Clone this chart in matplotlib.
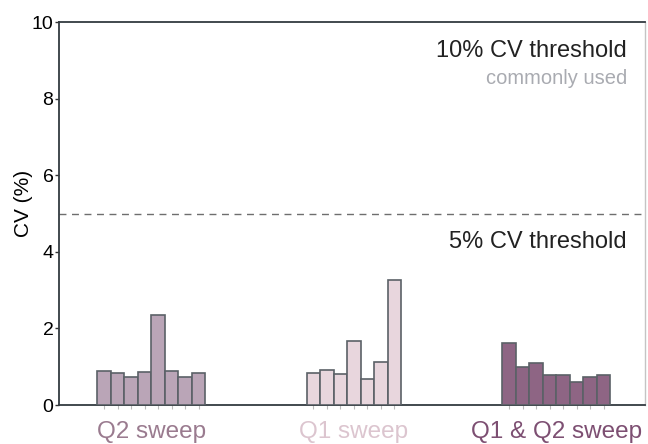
import numpy as np
import matplotlib.pyplot as plt

plt.rcParams['font.family'] = ['Liberation Sans', 'DejaVu Sans']

groups = ['Q2 sweep', 'Q1 sweep', 'Q1 & Q2 sweep']
q2_sweep = [0.89, 0.83, 0.74, 0.85, 2.36, 0.89, 0.72, 0.83]
q1_sweep = [0.83, 0.92, 0.82, 1.68, 0.69, 1.13, 3.26]
q1q2_sweep = [1.61, 0.98, 1.10, 0.79, 0.79, 0.60, 0.73, 0.79]
threshold = 5

fills = ['#baa5b7', '#e8d6dd', '#8e6584']
label_colors = ['#9a7b8f', '#dcc5cf', '#7d4f72']
starts = [0, 15.5, 30]

fig = plt.figure(figsize=(6.48, 4.44), dpi=100)
ax = fig.add_axes([0.091, 0.0878, 0.9043, 0.8626])

centers = []
for vals, x0, fc, lc, name in zip([q2_sweep, q1_sweep, q1q2_sweep], starts, fills, label_colors, groups):
    x = x0 + np.arange(len(vals))
    ax.bar(x, vals, width=1, align='edge', color=fc, edgecolor='#5b6167', linewidth=1.2, zorder=3)
    centers.extend(list(x + 0.5))
    mid = x0 + len(vals) / 2
    ax.text(mid, -0.86, name, color=lc, fontsize=17.5, ha='center', va='baseline', clip_on=False)

ax.axhline(threshold, color='#6e6e6e', linestyle=(0, (5, 4)), linewidth=1)

ax.text(0.969, 9.08, '10% CV threshold', transform=ax.get_yaxis_transform(), ha='right', va='baseline',
        fontsize=17, color='#222222')
ax.text(0.969, 8.38, 'commonly used', transform=ax.get_yaxis_transform(), ha='right', va='baseline',
        fontsize=14.5, color='#a9abb1')
ax.text(0.969, 4.10, '5% CV threshold', transform=ax.get_yaxis_transform(), ha='right', va='baseline',
        fontsize=17, color='#222222')

ax.set_xlim(-2.84, 40.56)
ax.set_ylim(0, 10)
ax.set_yticks([0, 2, 4, 6, 8, 10])
ax.tick_params(axis='y', labelsize=14, length=3, width=1, color='#333333', pad=1)
ax.set_xticks(centers)
ax.set_xticklabels([])
ax.tick_params(axis='x', length=3, color='#bbbbbb', width=0.8)
ax.set_ylabel('CV (%)', fontsize=15)
ax.yaxis.set_label_coords(-0.045, 0.527)

for side in ['left', 'bottom', 'top']:
    ax.spines[side].set_color('#333a40')
    ax.spines[side].set_linewidth(1.3)
ax.spines['right'].set_color('#c4c4c4')
ax.spines['right'].set_linewidth(1)

fig.savefig('out.png', dpi=100)
